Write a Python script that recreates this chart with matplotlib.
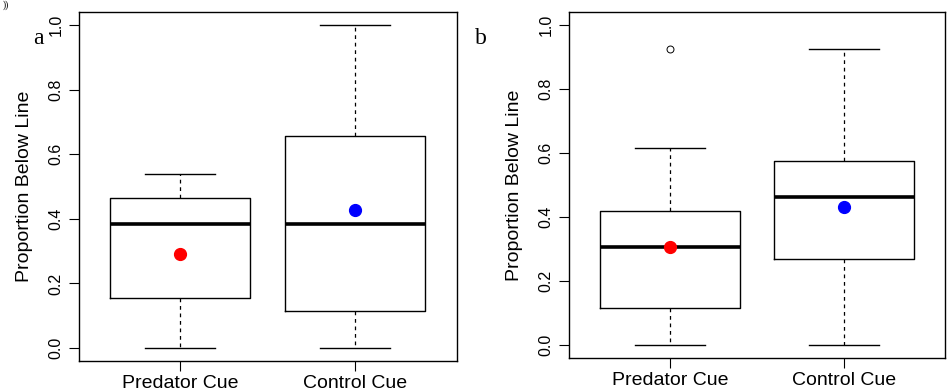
import matplotlib.pyplot as plt

plt.rcParams['font.family'] = ['Liberation Sans', 'DejaVu Sans']

groups = ['Predator Cue', 'Control Cue']
ytick_vals = [0.0, 0.2, 0.4, 0.6, 0.8, 1.0]

# panel a: whisker low, q1, median, q3, whisker high, mean
a_low = [0.0, 0.0]
a_q1 = [0.155, 0.115]
a_med = [0.385, 0.385]
a_q3 = [0.463, 0.655]
a_high = [0.54, 1.0]
a_mean = [0.292, 0.428]
a_fliers = [[], []]

# panel b
b_low = [0.0, 0.0]
b_q1 = [0.115, 0.268]
b_med = [0.308, 0.461]
b_q3 = [0.42, 0.576]
b_high = [0.614, 0.925]
b_mean = [0.308, 0.43]
b_fliers = [[0.925], []]

mean_colors = ['red', 'blue']

fig = plt.figure(figsize=(9.53, 3.92), dpi=100)
ax_a = fig.add_axes([79 / 953, 1 - 361 / 392, 378 / 953, 349 / 392])
ax_b = fig.add_axes([569 / 953, 1 - 358 / 392, 376 / 953, 346 / 392])


def draw_panel(ax, low, q1, med, q3, high, mean, fliers):
    stats = []
    for i in range(len(groups)):
        stats.append({'whislo': low[i], 'q1': q1[i], 'med': med[i], 'q3': q3[i],
                      'whishi': high[i], 'fliers': fliers[i]})
    ax.bxp(stats, positions=[1, 2], widths=0.8, showfliers=True,
           boxprops=dict(color='black', linewidth=1),
           medianprops=dict(color='black', linewidth=2.6, solid_capstyle='butt'),
           whiskerprops=dict(color='black', linewidth=0.9, linestyle=(0, (3, 3))),
           capprops=dict(color='black', linewidth=1),
           capwidths=0.4,
           flierprops=dict(marker='o', markerfacecolor='white', markeredgecolor='black',
                           markersize=5, markeredgewidth=0.7))
    for i in range(len(groups)):
        ax.plot(i + 1, mean[i], 'o', color=mean_colors[i], markersize=8.5, zorder=5)
    ax.set_xlim(0.42, 2.58)
    ax.set_ylim(-0.04, 1.04)
    ax.set_xticks([1, 2])
    ax.set_xticklabels(groups, fontsize=14)
    ax.set_yticks(ytick_vals)
    ax.set_yticklabels(['%.1f' % v for v in ytick_vals], rotation=90, va='center', fontsize=11.5)
    ax.tick_params(axis='both', direction='out', length=7, width=0.8, pad=4)
    ax.tick_params(axis='x', pad=3)
    ax.set_ylabel('Proportion Below Line', fontsize=14, labelpad=11)
    for s in ax.spines.values():
        s.set_linewidth(1.0)


draw_panel(ax_a, a_low, a_q1, a_med, a_q3, a_high, a_mean, a_fliers)
draw_panel(ax_b, b_low, b_q1, b_med, b_q3, b_high, b_mean, b_fliers)

fig.text(38 / 953, 1 - 38 / 392, 'a', family='Liberation Serif', fontsize=17, ha='center', va='center')
fig.text(481 / 953, 1 - 38 / 392, 'b', family='Liberation Serif', fontsize=17, ha='center', va='center')
fig.text(3 / 953, 1.0, '))', family='Liberation Serif', fontsize=7, ha='left', va='top')

fig.savefig('out.png', dpi=100)
